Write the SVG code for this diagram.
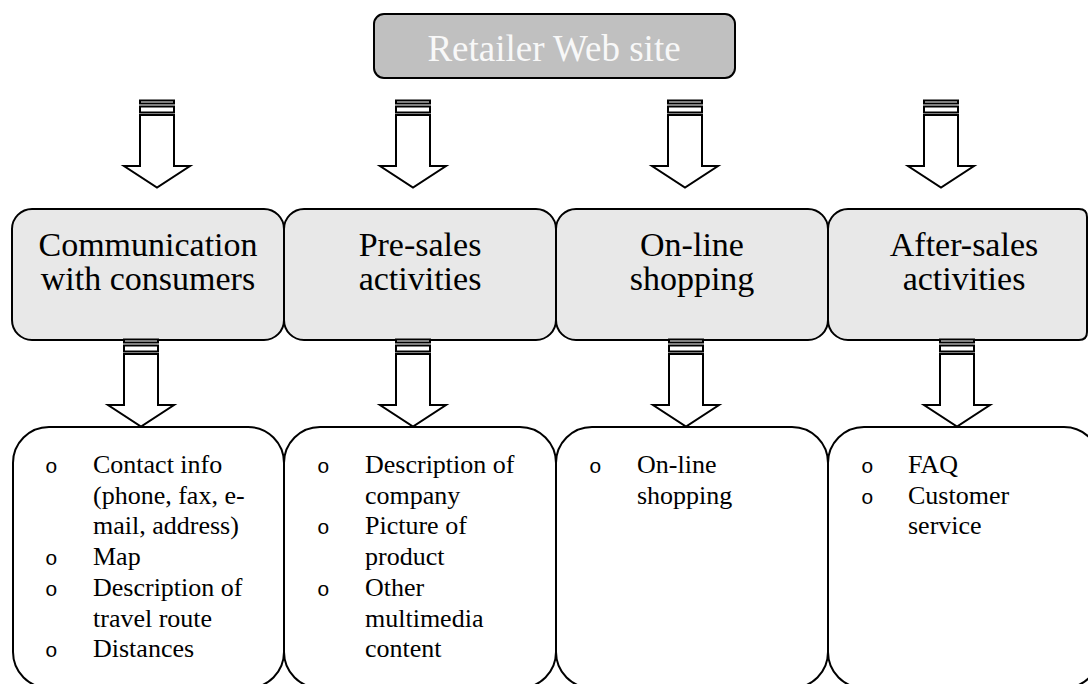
<svg xmlns="http://www.w3.org/2000/svg" xmlns:xlink="http://www.w3.org/1999/xlink" width="1088" height="684" viewBox="0 0 1088 684">
  <style>
    .head { fill: #c0c0c0; stroke: #000; stroke-width: 2; }
    .head-text { font-family: "Liberation Serif", "Times New Roman", serif; font-size: 37px; fill: #f8f8f8; text-anchor: middle; }
    .cat { fill: #e8e8e8; stroke: #000; stroke-width: 2; }
    .cat-text { font-family: "Liberation Serif", "Times New Roman", serif; font-size: 34px; fill: #000; text-anchor: middle; }
    .list { fill: #fff; stroke: #000; stroke-width: 2; }
    .item { font-family: "Liberation Serif", "Times New Roman", serif; font-size: 26px; fill: #000; }
    .bullet { font-family: "Liberation Mono", "Courier New", monospace; font-size: 21px; fill: #000; }
    .arrow { fill: #fff; stroke: #000; stroke-width: 2; stroke-linejoin: miter; }
  </style>
  <defs>
    <!-- striped block arrow pointing down; origin at the top of the stripes -->
    <g id="striped-arrow" class="arrow">
      <rect x="-17" y="0" width="34" height="3"/>
      <rect x="-17" y="6" width="34" height="6"/>
      <path d="M -17 14.5 V 65.5 H -33 L 0 87 L 33 65.5 H 17 V 14.5 Z"/>
    </g>
  </defs>

  <!-- top: the web site -->
  <g id="retailer">
    <rect class="head" x="374" y="14" width="361" height="64" rx="10" ry="10"/>
    <text class="head-text" x="554" y="61">Retailer Web site</text>
  </g>

  <!-- category row -->
  <g id="cat-communication">
    <rect class="cat" x="12" y="209" width="272" height="131" rx="20" ry="20"/>
    <text class="cat-text" x="148" y="256">Communication</text>
    <text class="cat-text" x="148" y="290">with consumers</text>
  </g>
  <g id="cat-presales">
    <rect class="cat" x="284" y="209" width="272" height="131" rx="20" ry="20"/>
    <text class="cat-text" x="420" y="256">Pre-sales</text>
    <text class="cat-text" x="420" y="290">activities</text>
  </g>
  <g id="cat-shopping">
    <rect class="cat" x="556" y="209" width="272" height="131" rx="20" ry="20"/>
    <text class="cat-text" x="692" y="256">On-line</text>
    <text class="cat-text" x="692" y="290">shopping</text>
  </g>
  <g id="cat-aftersales">
    <path class="cat" d="M 848 209 H 1079 Q 1087 209 1087 217 V 332 Q 1087 340 1079 340 H 848 A 20 20 0 0 1 828 320 V 229 A 20 20 0 0 1 848 209 Z"/>
    <text class="cat-text" x="964" y="256">After-sales</text>
    <text class="cat-text" x="964" y="290">activities</text>
  </g>

  <!-- detail lists -->
  <g id="list-communication">
    <rect class="list" x="13" y="427" width="271" height="261" rx="36" ry="36"/>
    <text class="bullet" x="45" y="473">o</text>
    <text class="item" x="93" y="473">Contact info</text>
    <text class="item" x="93" y="503.7">(phone, fax, e-</text>
    <text class="item" x="93" y="534.4">mail, address)</text>
    <text class="bullet" x="45" y="565">o</text>
    <text class="item" x="93" y="565">Map</text>
    <text class="bullet" x="45" y="595.8">o</text>
    <text class="item" x="93" y="595.8">Description of</text>
    <text class="item" x="93" y="626.5">travel route</text>
    <text class="bullet" x="45" y="657.2">o</text>
    <text class="item" x="93" y="657.2">Distances</text>
  </g>
  <g id="list-presales">
    <rect class="list" x="284" y="427" width="272" height="261" rx="36" ry="36"/>
    <text class="bullet" x="317" y="473">o</text>
    <text class="item" x="365" y="473">Description of</text>
    <text class="item" x="365" y="503.7">company</text>
    <text class="bullet" x="317" y="534.4">o</text>
    <text class="item" x="365" y="534.4">Picture of</text>
    <text class="item" x="365" y="565">product</text>
    <text class="bullet" x="317" y="595.8">o</text>
    <text class="item" x="365" y="595.8">Other</text>
    <text class="item" x="365" y="626.5">multimedia</text>
    <text class="item" x="365" y="657.2">content</text>
  </g>
  <g id="list-shopping">
    <rect class="list" x="556" y="427" width="272" height="261" rx="36" ry="36"/>
    <text class="bullet" x="589" y="473">o</text>
    <text class="item" x="637" y="473">On-line</text>
    <text class="item" x="637" y="503.7">shopping</text>
  </g>
  <g id="list-aftersales">
    <rect class="list" x="828" y="427" width="272" height="261" rx="36" ry="36"/>
    <text class="bullet" x="861" y="473">o</text>
    <text class="item" x="908" y="473">FAQ</text>
    <text class="bullet" x="861" y="503.7">o</text>
    <text class="item" x="908" y="503.7">Customer</text>
    <text class="item" x="908" y="534.4">service</text>
  </g>

  <!-- connectors -->
  <g id="connectors">
    <use xlink:href="#striped-arrow" x="157" y="100.5"/>
    <use xlink:href="#striped-arrow" x="413" y="100.5"/>
    <use xlink:href="#striped-arrow" x="685" y="100.5"/>
    <use xlink:href="#striped-arrow" x="941" y="100.5"/>
    <use xlink:href="#striped-arrow" x="141" y="339.5"/>
    <use xlink:href="#striped-arrow" x="413" y="339.5"/>
    <use xlink:href="#striped-arrow" x="686" y="339.5"/>
    <use xlink:href="#striped-arrow" x="957" y="339.5"/>
  </g>
</svg>
